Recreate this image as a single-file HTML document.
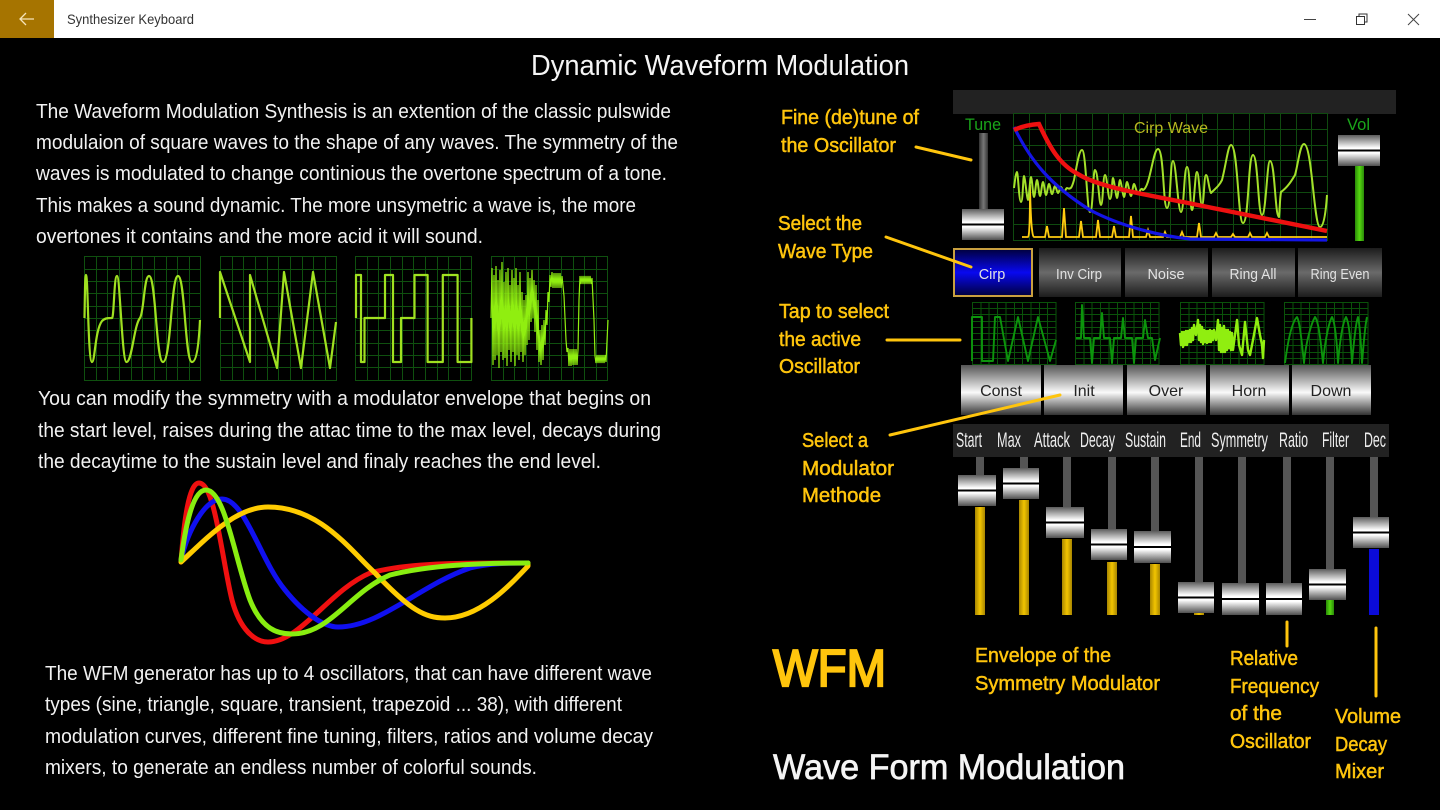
<!DOCTYPE html>
<html lang="en">
<head>
<meta charset="utf-8">
<title>Synthesizer Keyboard</title>
<style>
html,body{margin:0;padding:0;background:#000;width:1440px;height:810px;overflow:hidden}
svg{display:block}
text{font-family:"Liberation Sans",sans-serif}
.p{font-size:20.5px;fill:#f2f2f2}
.y{font-size:20.5px;fill:#ffc50d;stroke:#ffc50d;stroke-width:.5}
.b1{font-size:14.5px;fill:#e2e2e2;text-anchor:middle}
.b2{font-size:16px;fill:#222;text-anchor:middle}
.l{font-size:21px;fill:#eee}
.ln{stroke:#ffc50d;stroke-width:3;fill:none;stroke-linecap:round}
.tr{fill:#555}
.yb{fill:url(#yb)}
.sc{fill:none;stroke:#a0e020;stroke-width:2.2;stroke-linejoin:round}
.dg{fill:none;stroke:#0c940c;stroke-width:1.9;stroke-linejoin:round}
.c{fill:none;stroke-width:5;stroke-linecap:round;stroke-linejoin:round}
.g{fill:none;stroke-width:1}
</style>
</head>
<body>
<svg width="1440" height="810" viewBox="0 0 1440 810" xmlns="http://www.w3.org/2000/svg">
<defs>
<linearGradient id="k" x1="0" y1="0" x2="0" y2="1">
<stop offset="0" stop-color="#5c5c5c"/><stop offset=".42" stop-color="#fff"/><stop offset=".475" stop-color="#fff"/>
<stop offset=".475" stop-color="#000"/><stop offset=".525" stop-color="#000"/><stop offset=".525" stop-color="#fff"/>
<stop offset=".58" stop-color="#fff"/><stop offset="1" stop-color="#505050"/>
</linearGradient>
<linearGradient id="bb" x1="0" y1="0" x2="0" y2="1">
<stop offset="0" stop-color="#00003c"/><stop offset=".5" stop-color="#0808f0"/><stop offset="1" stop-color="#00003c"/>
</linearGradient>
<linearGradient id="gb" x1="0" y1="0" x2="0" y2="1">
<stop offset="0" stop-color="#1c1c1c"/><stop offset=".5" stop-color="#6a6a6a"/><stop offset="1" stop-color="#1c1c1c"/>
</linearGradient>
<linearGradient id="wb" x1="0" y1="0" x2="0" y2="1">
<stop offset="0" stop-color="#555"/><stop offset=".55" stop-color="#fafafa"/><stop offset="1" stop-color="#333"/>
</linearGradient>
<linearGradient id="yb" x1="0" y1="0" x2="1" y2="0">
<stop offset="0" stop-color="#a88600"/><stop offset=".5" stop-color="#f2c400"/><stop offset="1" stop-color="#a88600"/>
</linearGradient>
<linearGradient id="gr" x1="0" y1="0" x2="1" y2="0">
<stop offset="0" stop-color="#2a8a08"/><stop offset=".5" stop-color="#55d810"/><stop offset="1" stop-color="#2a8a08"/>
</linearGradient>
<linearGradient id="tg" x1="0" y1="0" x2="1" y2="0">
<stop offset="0" stop-color="#333"/><stop offset=".5" stop-color="#777"/><stop offset="1" stop-color="#333"/>
</linearGradient>
<path id="g1" class="g" stroke="#0f500f" d="M84.5 256V381M96.5 256V381M107.5 256V381M119.5 256V381M131.5 256V381M142.5 256V381M154.5 256V381M166.5 256V381M177.5 256V381M189.5 256V381M200.5 256V381M84 256.5H201M84 269.5H201M84 281.5H201M84 293.5H201M84 306.5H201M84 318.5H201M84 330.5H201M84 343.5H201M84 355.5H201M84 367.5H201M84 380.5H201"/>
<path id="g3" class="g" stroke="#0a520a" d="M.5 302V365M9 302V365M17 302V365M25.5 302V365M34 302V365M42.5 302V365M50.5 302V365M59 302V365M67.5 302V365M75.5 302V365M84 302V365M0 302.5H84.5M0 308.5H84.5M0 314.5H84.5M0 321.5H84.5M0 327.5H84.5M0 333.5H84.5M0 339.5H84.5M0 345.5H84.5M0 352.5H84.5M0 358.5H84.5M0 364.5H84.5"/>
</defs>

<rect width="1440" height="810" fill="#000"/>

<!-- Title bar -->
<rect width="1440" height="38" fill="#fff"/>
<rect width="54" height="38" fill="#a67400"/>
<path d="M20 19H34M26 13L20 19L26 25" stroke="#f6e4ba" stroke-width="1.3" fill="none"/>
<text x="67" y="24" font-size="14" fill="#333" textLength="127" lengthAdjust="spacingAndGlyphs">Synthesizer Keyboard</text>
<path d="M1304 19.5H1316" stroke="#444" stroke-width="1"/>
<path d="M1356.5 16.5h8v8h-8zM1359 16.5v-2.5h8v8h-2.5" stroke="#333" stroke-width="1" fill="none"/>
<path d="M1408 14L1419 25M1419 14L1408 25" stroke="#444" stroke-width="1" fill="none"/>

<!-- Left text -->
<text x="531" y="75" font-size="29" fill="#f5f5f5" textLength="378" lengthAdjust="spacingAndGlyphs">Dynamic Waveform Modulation</text>
<text class="p" x="36" y="118" textLength="635" lengthAdjust="spacingAndGlyphs">The Waveform Modulation Synthesis is an extention of the classic pulswide</text>
<text class="p" x="36" y="149" textLength="642" lengthAdjust="spacingAndGlyphs">modulaion of square waves to the shape of any waves. The symmetry of the</text>
<text class="p" x="36" y="180" textLength="631" lengthAdjust="spacingAndGlyphs">waves is modulated to change continious the overtone spectrum of a tone.</text>
<text class="p" x="36" y="212" textLength="600" lengthAdjust="spacingAndGlyphs">This makes a sound dynamic. The more unsymetric a wave is, the more</text>
<text class="p" x="36" y="243" textLength="447" lengthAdjust="spacingAndGlyphs">overtones it contains and the more acid it will sound.</text>

<text class="p" x="38" y="405" textLength="613" lengthAdjust="spacingAndGlyphs">You can modify the symmetry with a modulator envelope that begins on</text>
<text class="p" x="38" y="437" textLength="623" lengthAdjust="spacingAndGlyphs">the start level, raises during the attac time to the max level, decays during</text>
<text class="p" x="38" y="468" textLength="563" lengthAdjust="spacingAndGlyphs">the decaytime to the sustain level and finaly reaches the end level.</text>

<text class="p" x="45" y="680" textLength="607" lengthAdjust="spacingAndGlyphs">The WFM generator has up to 4 oscillators, that can have different wave</text>
<text class="p" x="45" y="711" textLength="577" lengthAdjust="spacingAndGlyphs">types (sine, triangle, square, transient, trapezoid ... 38), with different</text>
<text class="p" x="45" y="743" textLength="608" lengthAdjust="spacingAndGlyphs">modulation curves, different fine tuning, filters, ratios and volume decay</text>
<text class="p" x="45" y="774" textLength="492" lengthAdjust="spacingAndGlyphs">mixers, to generate an endless number of colorful sounds.</text>

<!-- Left scopes -->
<use href="#g1"/>
<use href="#g1" transform="translate(136 0)"/>
<use href="#g1" transform="translate(271 0)"/>
<use href="#g1" transform="translate(407 0)"/>

<path class="sc" d="M84.5 318C85 290 85 275 86 275C88 275 88 362 92 362C95 362 95 330 102 321C105 318 108 318 112 318C114 318 114 276 117 276C120 276 122 362 126.5 362C132 362 134 325 140 318C144 312 144 276 149 276C156 276 156 362 163 362C171 362 171 276 178 276C185 276 185 362 192 362C197 362 199 340 200 320"/>
<path class="sc" d="M220 318V272L250 362V275L277 368L284 272L301 368L313 272L330 368L336 322"/>
<path class="sc" d="M356 318V275H361V362H364.5V318H385V275H393V362H401V318H414.5V275H427.6V362H442.8V275H457.6V362H471.4V318"/>
<path fill="none" stroke="#90ee10" stroke-width="1.2" d="M491 318L492 268 493 365 494 275 495 360 496 266 497 355 498 280 499 368 500 270 501 352 502 262 503 360 504 282 505 358 506 272 507 366 508 268 509 350 510 285 511 362 512 270 513 352 514 278 515 366 516 268 517 355 518 285 519 360 520 272 521 352 522 292 523 362 524 300 525 355 526 295 527 345 528 272 529 340 530 278 531 322 532 270 533 318 534 280 535 332 536 285 537 350 538 300 539 362 540 330 541 365 542 325 543 360 544 320 545 345 546 310 547 325 548 292 549 302 550 275 551 287 552 272 553 288 554 273 555 288 556 273 557 288 558 273 559 288 560 273 561 288 562 276 564 296 566 340 567 352 568 348 569 366 570 349 571 366 572 349 573 365 574 349 575 365 576 349 577 365 578 350 579 300 580 276 581 284 582 276 583 284 584 276 585 284 586 276 587 284 588 276 589 284 590 276 591 284 592 278 594 320 595 356 596 363 597 355 598 363 599 355 600 363 601 355 602 363 603 355 604 363 605 355 606 362 608 320"/>

<!-- Envelope curves -->
<path class="c" stroke="#f01010" d="M181 562C184 520 189 483 199 483C215 483 222 560 232 600C240 630 255 642 268 642C300 642 330 590 370 573C410 562 470 563 528 563"/>
<path class="c" stroke="#1010f0" d="M181 560C188 530 205 499 222 499C245 499 260 560 285 590C305 615 325 627 338 627C380 627 420 585 470 568C490 563 510 563 528 563"/>
<path class="c" stroke="#ffcc00" d="M181 562C205 540 235 507 268 507C320 507 350 550 375 573C410 610 425 618 445 618C480 618 510 585 528 566V563"/>
<path class="c" stroke="#88ee10" d="M181 560C185 530 192 490 206 490C225 490 235 560 250 600C262 630 278 634 292 634C330 634 350 592 390 575C430 565 480 563 528 563"/>

<!-- Top panel -->
<rect x="953" y="90" width="443" height="24" fill="#222"/>
<text x="965" y="130" font-size="16.5" fill="#1aa51a" textLength="36" lengthAdjust="spacingAndGlyphs">Tune</text>
<text x="1347" y="130" font-size="16.5" fill="#1aa51a" textLength="23" lengthAdjust="spacingAndGlyphs">Vol</text>
<rect x="979" y="133" width="9" height="78" fill="url(#tg)"/>
<rect x="962" y="209" width="42" height="31" fill="url(#k)"/>
<rect x="1355" y="166" width="9" height="75" fill="url(#gr)"/>
<rect x="1338" y="135" width="42" height="31" fill="url(#k)"/>

<path class="g" stroke="#0f4a0f" d="M1013.5 113V241M1029.5 113V241M1045.5 113V241M1060.5 113V241M1076.5 113V241M1092.5 113V241M1108.5 113V241M1123.5 113V241M1139.5 113V241M1155.5 113V241M1170.5 113V241M1186.5 113V241M1202.5 113V241M1217.5 113V241M1233.5 113V241M1249.5 113V241M1264.5 113V241M1280.5 113V241M1296.5 113V241M1311.5 113V241M1327.5 113V241M1013 113.5H1328M1013 129.5H1328M1013 145.5H1328M1013 160.5H1328M1013 176.5H1328M1013 192.5H1328M1013 208.5H1328M1013 224.5H1328M1013 240.5H1328"/>
<text x="1134" y="133" font-size="16" fill="#b8b820" textLength="74" lengthAdjust="spacingAndGlyphs">Cirp Wave</text>
<path fill="none" stroke="#ffcc10" stroke-width="1.8" d="M1022 237H1028Q1030 237 1030 185Q1031 237 1034 237H1045L1047 226L1049 237H1062L1064 208L1066 237H1079L1081 221L1083 237H1096L1098 220L1100 237H1112L1114 226L1116 237H1129L1131 216L1133 237H1146L1148 230L1150 237H1163L1165 232L1167 237H1180L1182 232L1184 237H1197L1199 223L1201 237H1214L1216 233L1218 237H1231L1233 234L1235 237H1248L1250 233L1252 237H1265L1267 233L1269 237H1327"/>
<path fill="none" stroke="#a4e02a" stroke-width="2" stroke-linejoin="round" d="M1014 188C1015 180 1016 172 1017 172S1019 202 1021 202S1023 176 1024 176S1027 200 1028 200S1030 177 1031 177S1033 197 1034 197S1036 180 1037 180S1039 196 1040 196S1042 182 1043 182S1045 195 1046 195S1048 184 1049 184S1051 194 1052 194S1054 186 1055 186S1057 193 1058 193S1060 187 1061 187S1063 192 1064 192S1066 188 1067 188C1071 190 1072 187 1074 180C1077 165 1079 150 1082 150C1086 150 1087 212 1090 212C1093 212 1093 170 1095 170C1098 170 1099 205 1101 205S1103 175 1105 175S1108 199 1110 199S1112 178 1113 178S1116 198 1117 198S1119 180 1120 180S1123 197 1124 197S1126 182 1127 182S1130 196 1131 196S1133 184 1134 184S1137 194 1138 194S1141 186 1143 190C1150 188 1153 149 1158 149C1164 149 1163 208 1167 208S1170 161 1173 161S1178 212 1181 212S1184 167 1187 167S1190 210 1192 210S1195 172 1197 172S1200 205 1202 205S1204 175 1206 175S1209 190 1211 193C1216 188 1219 186 1222 180C1226 165 1228 145 1231 145C1238 145 1238 223 1243 223C1249 223 1248 155 1253 155C1258 155 1258 215 1262 215S1267 161 1270 161C1275 161 1275 217 1279 217C1280 205 1280 197 1281 192C1288 187 1292 180 1295 175C1298 165 1300 144 1304 144C1312 144 1314 227 1320 227C1324 227 1326 210 1327 195"/>
<path fill="none" stroke="#1414e6" stroke-width="3.2" d="M1014 127C1030 160 1050 185 1090 210C1120 226 1160 236 1190 239L1327 240"/>
<path fill="none" stroke="#ee1010" stroke-width="4.4" d="M1014 130Q1025 125 1039 124C1050 148 1060 165 1078 174C1095 185 1130 192 1183 202L1327 231"/>

<!-- Wave buttons -->
<rect x="954" y="249" width="78" height="47" fill="url(#bb)" stroke="#c9a040" stroke-width="2"/>
<rect x="1039" y="248" width="82" height="49" fill="url(#gb)"/>
<rect x="1125" y="248" width="83" height="49" fill="url(#gb)"/>
<rect x="1212" y="248" width="83" height="49" fill="url(#gb)"/>
<rect x="1298" y="248" width="84" height="49" fill="url(#gb)"/>
<text class="b1" x="992" y="279">Cirp</text>
<text class="b1" x="1079" y="279" textLength="46" lengthAdjust="spacingAndGlyphs">Inv Cirp</text>
<text class="b1" x="1166" y="279">Noise</text>
<text class="b1" x="1253" y="279" textLength="47" lengthAdjust="spacingAndGlyphs">Ring All</text>
<text class="b1" x="1340" y="279" textLength="59" lengthAdjust="spacingAndGlyphs">Ring Even</text>

<!-- Oscillator scopes -->
<use href="#g3" transform="translate(972 0)"/>
<use href="#g3" transform="translate(1075 0)"/>
<use href="#g3" transform="translate(1180 0)"/>
<use href="#g3" transform="translate(1284 0)"/>
<path class="dg" d="M972 361V317H982V361H993L995 317H1000L1008 361L1018 317L1028 361L1038 317L1050 361L1056 340"/>
<path class="dg" d="M1076 338H1081L1082 305L1084 338H1090L1092 363L1094 338H1100L1102 313L1104 338H1110L1112 363L1114 338H1121L1123 318L1125 338H1132L1134 363L1136 338H1143L1145 320L1148 338H1152L1155 360L1160 338"/>
<path fill="none" stroke="#90ee10" stroke-width="2.4" stroke-linejoin="round" d="M1180 333L1181 345 1182 332 1183 347 1184 332 1185 345 1186 331 1187 345 1188 331 1189 342 1190 330 1191 342 1192 328 1193 340 1194 325 1196 335 1198 320 1199 340 1200 325 1201 342 1202 327 1203 344 1204 330 1205 342 1206 331 1207 343 1208 331 1209 342 1210 330 1211 342 1212 331 1213 340 1214 330 1216 340 1218 320 1219 350 1220 325 1221 352 1222 328 1223 352 1224 326 1225 352 1226 330 1227 350 1228 330 1229 348 1230 332 1231 350 1232 333 1233 350 1235 335 1237 320 1239 345 1242 355 1245 322 1248 350 1250 355 1253 340 1257 318 1260 335 1262 345 1263 358 1264 340"/>
<path class="dg" d="M1285 363C1288 340 1292 322 1297 317C1300 322 1302 345 1304 363C1306 340 1312 322 1315 317C1319 322 1321 345 1323 363C1325 340 1329 322 1332 317C1335 322 1337 345 1338 363C1340 340 1343 322 1346 317C1349 322 1351 345 1352 363C1354 340 1356 322 1358 317C1360 325 1361 345 1362 363C1364 340 1365 325 1367 317"/>

<!-- Method buttons -->
<rect x="961" y="365" width="80" height="50" fill="url(#wb)"/>
<rect x="1044" y="365" width="79" height="50" fill="url(#wb)"/>
<rect x="1127" y="365" width="79" height="50" fill="url(#wb)"/>
<rect x="1210" y="365" width="79" height="50" fill="url(#wb)"/>
<rect x="1292" y="365" width="79" height="50" fill="url(#wb)"/>
<text class="b2" x="1001" y="396">Const</text>
<text class="b2" x="1084" y="396">Init</text>
<text class="b2" x="1166" y="396">Over</text>
<text class="b2" x="1249" y="396">Horn</text>
<text class="b2" x="1331" y="396">Down</text>

<!-- Slider labels -->
<rect x="953" y="424" width="436" height="33" fill="#222"/>
<text class="l" x="956" y="447" textLength="26" lengthAdjust="spacingAndGlyphs">Start</text>
<text class="l" x="997" y="447" textLength="24" lengthAdjust="spacingAndGlyphs">Max</text>
<text class="l" x="1034" y="447" textLength="36" lengthAdjust="spacingAndGlyphs">Attack</text>
<text class="l" x="1080" y="447" textLength="35" lengthAdjust="spacingAndGlyphs">Decay</text>
<text class="l" x="1125" y="447" textLength="41" lengthAdjust="spacingAndGlyphs">Sustain</text>
<text class="l" x="1180" y="447" textLength="21" lengthAdjust="spacingAndGlyphs">End</text>
<text class="l" x="1211" y="447" textLength="57" lengthAdjust="spacingAndGlyphs">Symmetry</text>
<text class="l" x="1279" y="447" textLength="29" lengthAdjust="spacingAndGlyphs">Ratio</text>
<text class="l" x="1322" y="447" textLength="27" lengthAdjust="spacingAndGlyphs">Filter</text>
<text class="l" x="1364" y="447" textLength="22" lengthAdjust="spacingAndGlyphs">Dec</text>

<!-- Sliders -->
<rect class="tr" x="976" y="457" width="8" height="20"/><rect class="yb" x="975" y="507" width="10" height="108"/><rect x="958" y="475" width="38" height="31" fill="url(#k)"/>
<rect class="tr" x="1020" y="457" width="8" height="13"/><rect class="yb" x="1019" y="500" width="10" height="115"/><rect x="1003" y="468" width="36" height="31" fill="url(#k)"/>
<rect class="tr" x="1063" y="457" width="8" height="52"/><rect class="yb" x="1062" y="539" width="10" height="76"/><rect x="1046" y="507" width="38" height="31" fill="url(#k)"/>
<rect class="tr" x="1108" y="457" width="8" height="74"/><rect class="yb" x="1107" y="562" width="10" height="53"/><rect x="1091" y="529" width="36" height="31" fill="url(#k)"/>
<rect class="tr" x="1151" y="457" width="8" height="76"/><rect class="yb" x="1150" y="564" width="10" height="51"/><rect x="1134" y="531" width="37" height="32" fill="url(#k)"/>
<rect class="tr" x="1195" y="457" width="8" height="127"/><rect class="yb" x="1194" y="613" width="10" height="2"/><rect x="1178" y="582" width="36" height="31" fill="url(#k)"/>
<rect class="tr" x="1238" y="457" width="8" height="128"/><rect x="1222" y="583" width="37" height="32" fill="url(#k)"/>
<rect class="tr" x="1283" y="457" width="8" height="128"/><rect x="1266" y="583" width="36" height="32" fill="url(#k)"/>
<rect class="tr" x="1326" y="457" width="8" height="114"/><rect x="1326" y="600" width="8" height="15" fill="url(#gr)"/><rect x="1309" y="569" width="37" height="31" fill="url(#k)"/>
<rect class="tr" x="1370" y="457" width="8" height="62"/><rect x="1369" y="549" width="10" height="66" fill="#0b0bd8"/><rect x="1353" y="517" width="36" height="31" fill="url(#k)"/>

<!-- Connector lines -->
<path class="ln" d="M916 147L971 160"/>
<path class="ln" d="M886 237L971 267"/>
<path class="ln" d="M887 340H960"/>
<path class="ln" d="M890 435L1060 395"/>
<path class="ln" d="M1287 622V646"/>
<path class="ln" d="M1376 628V696"/>

<!-- Yellow labels -->
<text class="y" x="781" y="124" textLength="138" lengthAdjust="spacingAndGlyphs">Fine (de)tune of</text>
<text class="y" x="781" y="152" textLength="115" lengthAdjust="spacingAndGlyphs">the Oscillator</text>
<text class="y" x="778" y="230" textLength="84" lengthAdjust="spacingAndGlyphs">Select the</text>
<text class="y" x="778" y="258" textLength="95" lengthAdjust="spacingAndGlyphs">Wave Type</text>
<text class="y" x="779" y="318" textLength="110" lengthAdjust="spacingAndGlyphs">Tap to select</text>
<text class="y" x="779" y="346" textLength="82" lengthAdjust="spacingAndGlyphs">the active</text>
<text class="y" x="779" y="373" textLength="81" lengthAdjust="spacingAndGlyphs">Oscillator</text>
<text class="y" x="802" y="447" textLength="66" lengthAdjust="spacingAndGlyphs">Select a</text>
<text class="y" x="802" y="475" textLength="92" lengthAdjust="spacingAndGlyphs">Modulator</text>
<text class="y" x="802" y="502" textLength="79" lengthAdjust="spacingAndGlyphs">Methode</text>
<text class="y" x="975" y="662" textLength="136" lengthAdjust="spacingAndGlyphs">Envelope of the</text>
<text class="y" x="975" y="690" textLength="185" lengthAdjust="spacingAndGlyphs">Symmetry Modulator</text>
<text class="y" x="1230" y="665" textLength="68" lengthAdjust="spacingAndGlyphs">Relative</text>
<text class="y" x="1230" y="693" textLength="89" lengthAdjust="spacingAndGlyphs">Frequency</text>
<text class="y" x="1230" y="720" textLength="52" lengthAdjust="spacingAndGlyphs">of the</text>
<text class="y" x="1230" y="748" textLength="81" lengthAdjust="spacingAndGlyphs">Oscillator</text>
<text class="y" x="1335" y="723" textLength="66" lengthAdjust="spacingAndGlyphs">Volume</text>
<text class="y" x="1335" y="751" textLength="52" lengthAdjust="spacingAndGlyphs">Decay</text>
<text class="y" x="1335" y="778" textLength="49" lengthAdjust="spacingAndGlyphs">Mixer</text>

<text x="773" y="686" font-size="52" fill="#ffc50d" stroke="#ffc50d" stroke-width="2.2" textLength="113" lengthAdjust="spacingAndGlyphs">WFM</text>
<text x="773" y="779" font-size="35" fill="#f5f5f5" stroke="#f5f5f5" stroke-width=".7" textLength="352" lengthAdjust="spacingAndGlyphs">Wave Form Modulation</text>
</svg>
</body>
</html>
